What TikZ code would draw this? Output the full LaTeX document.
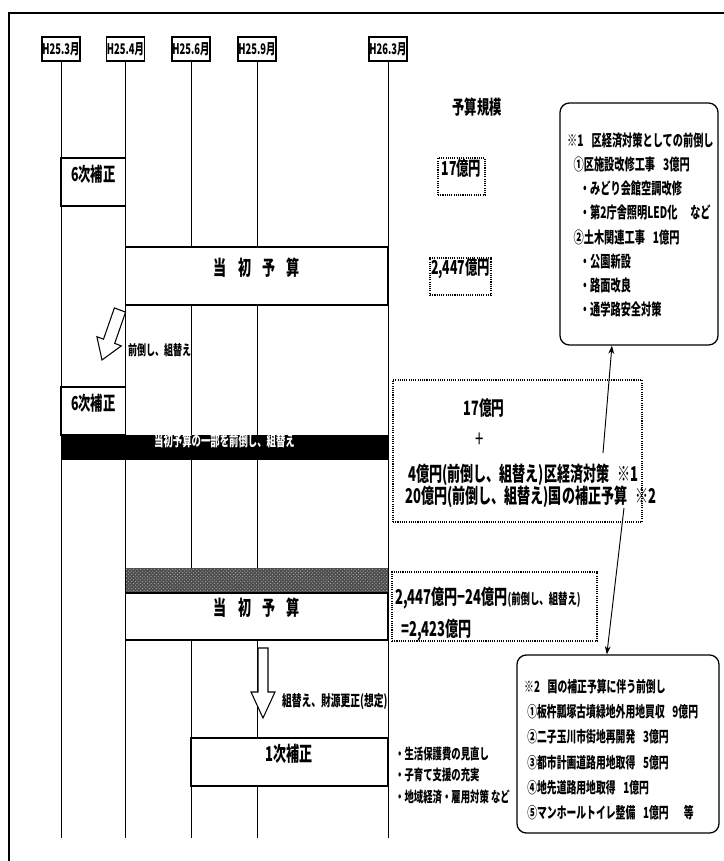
\documentclass[tikz,border=0pt]{standalone}
\usepackage{fontspec}
\setmainfont{Noto Sans CJK JP}[FakeStretch=0.64, BoldFeatures={FakeStretch=0.64}]
\usetikzlibrary{fit,patterns,arrows.meta,calc}
\newcommand\jfs[1]{\fontsize{#1}{#1}\selectfont\bfseries}
\begin{document}
\begin{tikzpicture}[x=0.03cm,y=-0.03cm,
  hdr/.style={draw, line width=1pt, fill=white, inner sep=0, minimum width={38*0.03cm}, minimum height={24*0.03cm}, font=\jfs{12.5}},
  vline/.style={line width=0.7pt},
  box/.style={draw, line width=1.1pt, fill=white, inner sep=0},
  dbox/.style={draw, densely dotted, line width=0.9pt, fill=white, inner sep=0},
  rbox/.style={draw, line width=1.1pt, rounded corners=8pt, fill=white, inner sep=0},
  lbl/.style={inner sep=0, font=\jfs{14}},
  conn/.style={line width=0.8pt, -{Stealth[length=7pt,width=5pt]}},
  blockarrow/.style={line width=0.9pt, fill=white, line join=miter}
]
\useasboundingbox (0,0) rectangle (724,861);
% frame
\draw[line width=1.2pt] (9,861) -- (9,13) -- (724,13);
% header boxes
\node[hdr] (h1) at (61,49) {H25.3月};
\node[hdr] (h2) at (125.5,49) {H25.4月};
\node[hdr] (h3) at (191,49) {H25.6月};
\node[hdr] (h4) at (257,49) {H25.9月};
\node[hdr] (h5) at (388,49) {H26.3月};
\coordinate (e1) at (61,838);
\coordinate (e2) at (125.5,838);
\coordinate (e3) at (191,838);
\coordinate (e4) at (257,838);
\coordinate (e5) at (388,838);
\foreach \i in {1,...,5} {\draw[vline] (h\i) -- (e\i);}
% left column boxes
\node[box, fit={(61,158) (125.5,206)}, font=\jfs{16.4}] (b6a) {6次補正};
\node[box, fit={(125.5,247) (388,305)}, font=\jfs{17.4}] (tb1) {当\hspace{0.55em}初\hspace{0.55em}予\hspace{0.55em}算};
\draw[blockarrow] (125.6,312.1) -- (114.7,343.4) -- (121.3,345.9) -- (102,360) -- (96.9,336.7) -- (103.5,339.2) -- (114.4,307.9) -- cycle;
\node[lbl, anchor=west, font=\jfs{12}] (lzen) at (128,350) {前倒し、組替え};
\node[box, fit={(61,387) (125.5,435)}, font=\jfs{16.4}] (b6b) {6次補正};
\node[draw=black, fill=black, inner sep=0, fit={(61,435) (388,459)}, text=white, font=\jfs{12.5}] (bar) {当初予算の一部を前倒し、組替え};
\node[inner sep=0, fill=black!70, fit={(125.5,568) (388,593)}, postaction={pattern=crosshatch dots, pattern color=black!30}] (hatch) {};
\node[box, fit={(125.5,593) (388,640)}, font=\jfs{17.4}] (tb2) {当\hspace{0.55em}初\hspace{0.55em}予\hspace{0.55em}算};
\draw[blockarrow] (258,648) -- (268,648) -- (268,692) -- (275,692) -- (263,718) -- (251,692) -- (258,692) -- cycle;
\node[lbl, anchor=west, font=\jfs{13}] (lkumi) at (282,702) {組替え、財源更正(想定)};
\node[box, fit={(191,738) (388,786)}, font=\jfs{17.4}] (b1) {1次補正};
\node[lbl, anchor=north west, align=left, font=\fontsize{12.5}{18}\selectfont\bfseries] (notes) at (395,747) {・生活保護費の見直し\\・子育て支援の充実\\・地域経済・雇用対策 など};
% right column
\node[lbl, font=\jfs{16.4}] (yosan) at (477,107) {予算規模};
\node[dbox, fit={(438,158) (485,195)}, font=\jfs{16.4}] (d17) {17億円};
\node[dbox, fit={(430,258) (491,295)}, font=\jfs{16.4}] (d2447) {2,447億円};
\node[dbox, fit={(393,380) (642,522)}] (dsum) {};
\node[lbl, font=\jfs{16.9}] (s1) at (484,408) {17億円};
\node[lbl, font=\fontsize{20}{20}\selectfont] (s2) at (480,440) {+};
\node[lbl, anchor=west, font=\jfs{17.4}] (s3) at (408,475) {4億円(前倒し、組替え)区経済対策\hspace{0.4em}※1};
\node[lbl, anchor=west, font=\jfs{17.4}] (s4) at (405,497) {20億円(前倒し、組替え)国の補正予算\hspace{0.4em}※2};
\node[dbox, fit={(392,572) (597,641)}] (d2423) {};
\node[lbl, anchor=west, font=\jfs{17.4}] (t1) at (395,598) {2,447億円−24億円{\jfs{12.5}(前倒し、組替え)}};
\node[lbl, anchor=west, font=\jfs{17.4}] (t2) at (401,630) {=2,423億円};
% note boxes
\node[rbox, fit={(560,103) (718,345)}] (n1) {};
\node[lbl, anchor=north west, align=left, font=\fontsize{13.6}{20.7}\selectfont\bfseries] (n1t) at (567,132) {※1\hspace{0.5em}区経済対策としての前倒し\\
\hspace{0.4em}①区施設改修工事\hspace{0.5em}3億円\\
\hspace{0.8em}・みどり会館空調改修\\
\hspace{0.8em}・第2庁舎照明LED化\hspace{0.8em}など\\
\hspace{0.4em}②土木関連工事\hspace{0.5em}1億円\\
\hspace{0.8em}・公園新設\\
\hspace{0.8em}・路面改良\\
\hspace{0.8em}・通学路安全対策};
\node[rbox, fit={(517,655) (719,833)}] (n2) {};
\node[lbl, anchor=north west, align=left, font=\fontsize{13.1}{21.5}\selectfont\bfseries] (n2t) at (524,679) {※2\hspace{0.5em}国の補正予算に伴う前倒し\\
\hspace{0.2em}①板杵瓢塚古墳緑地外用地買収\hspace{0.5em}9億円\\
\hspace{0.2em}②二子玉川市街地再開発\hspace{0.5em}3億円\\
\hspace{0.2em}③都市計画道路用地取得\hspace{0.5em}5億円\\
\hspace{0.2em}④地先道路用地取得\hspace{0.5em}1億円\\
\hspace{0.2em}⑤マンホールトイレ整備\hspace{0.5em}1億円\hspace{1em}等};
% connectors
\coordinate (c1) at (603,453);
\draw[conn] (c1) -- ($(n1.south west)!0.33!(n1.south east)$);
\coordinate (c2) at (624,508);
\draw[conn] (c2) -- ($(n2.north west)!0.445!(n2.north east)$);
\end{tikzpicture}
\end{document}
